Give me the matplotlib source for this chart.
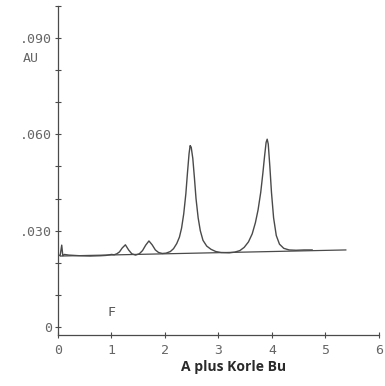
import matplotlib
matplotlib.use("Agg")
import matplotlib.pyplot as plt

# chromatogram trace (time, absorbance)
trace_x = [0.0, 0.04, 0.07, 0.09, 0.12, 0.2, 0.4, 0.6, 0.8, 0.9, 1.0, 1.05, 1.1,
           1.15, 1.2, 1.26, 1.32, 1.38, 1.45, 1.52, 1.58, 1.64, 1.70, 1.76, 1.82,
           1.88, 1.95, 2.02, 2.1, 2.16, 2.22, 2.27, 2.31, 2.35, 2.39, 2.42, 2.45,
           2.47, 2.49, 2.52, 2.55, 2.58, 2.62, 2.66, 2.71, 2.78, 2.86, 2.95, 3.05,
           3.2, 3.3, 3.4, 3.48, 3.56, 3.63, 3.69, 3.74, 3.79, 3.83, 3.86, 3.89,
           3.91, 3.93, 3.96, 3.99, 4.03, 4.08, 4.14, 4.22, 4.32, 4.45, 4.6, 4.75]
trace_y = [0.0225, 0.0222, 0.0255, 0.0222, 0.0226, 0.0224, 0.0222, 0.0221, 0.0222,
           0.0223, 0.0226, 0.0225, 0.0228, 0.0234, 0.0246, 0.0256, 0.0240, 0.0228,
           0.0224, 0.0228, 0.0238, 0.0255, 0.0268, 0.0256, 0.0240, 0.0232, 0.0229,
           0.0230, 0.0235, 0.0244, 0.0260, 0.0280, 0.0308, 0.0352, 0.0415, 0.0480,
           0.0540, 0.0565, 0.0560, 0.0525, 0.0465, 0.0400, 0.0340, 0.0300, 0.0270,
           0.0252, 0.0242, 0.0235, 0.0232, 0.0231, 0.0233, 0.0238, 0.0248, 0.0265,
           0.0290, 0.0325, 0.0365, 0.0420, 0.0480, 0.0530, 0.0575, 0.0585, 0.0570,
           0.0500, 0.0420, 0.0340, 0.0285, 0.0258, 0.0245, 0.0240, 0.0239, 0.0240,
           0.0240]

# drawn baseline
base_x = [0.05, 5.38]
base_y = [0.0221, 0.0240]

x_ticks = [0, 1, 2, 3, 4, 5, 6]
y_ticks = [0, 0.01, 0.02, 0.03, 0.04, 0.05, 0.06, 0.07, 0.08, 0.09, 0.10]
y_labels = {0: "0", 0.03: ".030", 0.06: ".060", 0.09: ".090"}

ink = "#4a4a4a"
mono = "DejaVu Sans Mono"

fig = plt.figure(figsize=(3.85, 3.86), dpi=100)
ax = fig.add_axes([0.1506, 0.1321, 0.8338, 0.8524])

ax.plot(trace_x, trace_y, color=ink, lw=1.0)
ax.plot(base_x, base_y, color=ink, lw=0.9)

ax.set_xlim(0, 6)
ax.set_ylim(-0.0025, 0.100)
for s in ("top", "right"):
    ax.spines[s].set_visible(False)
for s in ("left", "bottom"):
    ax.spines[s].set_color(ink)
    ax.spines[s].set_linewidth(0.9)

ax.set_xticks(x_ticks)
ax.set_xticklabels([str(t) for t in x_ticks], family=mono, fontsize=9.5, color="#666666")
ax.set_yticks(y_ticks)
ax.set_yticklabels([y_labels.get(round(t, 2), "") for t in y_ticks],
                   family=mono, fontsize=9.5, color="#666666")
ax.tick_params(axis="both", direction="inout", length=5, width=0.8, color=ink)
ax.tick_params(axis="y", pad=2)
ax.tick_params(axis="x", pad=4)

fig.text(31 / 385, 1 - 58 / 386, "AU", family=mono, fontsize=9.5, color="#666666",
         ha="center", va="center")
ax.text(1.0, 0.0045, "F", family=mono, fontsize=9.5, color="#555555",
        ha="center", va="center")
fig.text(234 / 385, 1 - 367 / 386, "A plus Korle Bu", family="Open Sans",
         fontweight="bold", fontsize=10, color="#2a2a2a", ha="center", va="center")

fig.savefig("out.png", dpi=100)
